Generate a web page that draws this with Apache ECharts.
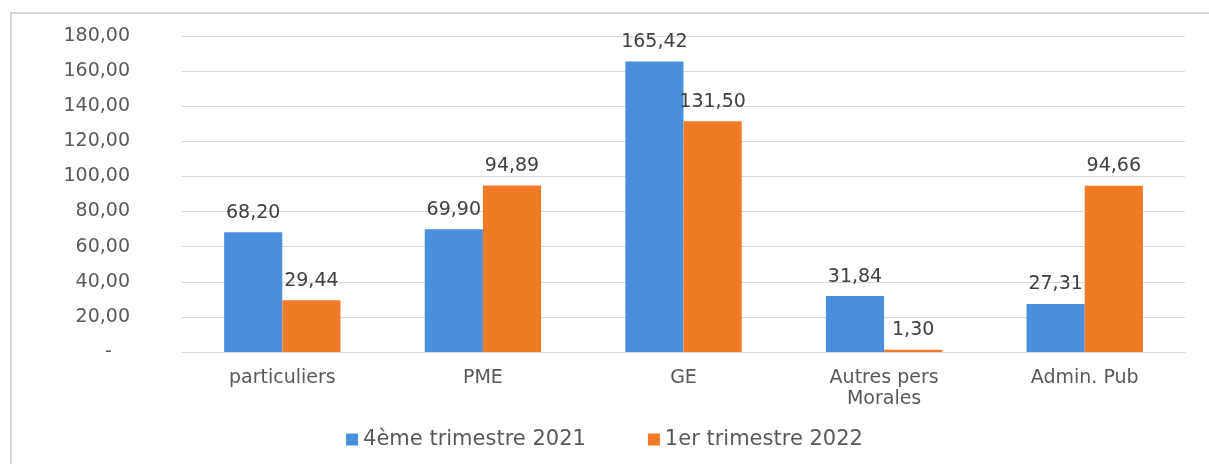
<!DOCTYPE html>
<html>
<head>
<meta charset="utf-8">
<script src="https://cdn.jsdelivr.net/npm/echarts@6/dist/echarts.min.js"></script>
<style>
  html, body { margin: 0; padding: 0; background: #fff; }
  #chart-dom { width: 1209px; height: 464px; }
</style>
</head>
<body>
<div id="chart-dom"></div>
<script>
const categories = ['particuliers', 'PME', 'GE', 'Autres pers\nMorales', 'Admin. Pub']
const seriesNames = ['4ème trimestre 2021', '1er trimestre 2022']
const q4_2021 = [68.20, 69.90, 165.42, 31.84, 27.31]
const q1_2022 = [29.44, 94.89, 131.50, 1.30, 94.66]
const colors = ['#4a8fdc', '#f07a26']

const fontFamily = 'DejaVu Sans'
// french number format, 2 decimals
const fmt = v => v.toFixed(2).replace('.', ',')

const chart = echarts.init(document.getElementById('chart-dom'))

const labelStyle = {
    show: true,
    position: 'top',
    distance: 10,
    fontFamily: fontFamily,
    fontSize: 19,
    color: '#404040',
    formatter: p => fmt(p.value)
}

const option = {
    animation: false,
    backgroundColor: '#fff',
    color: colors,
    // frame: only top and left edges are visible in the source
    graphic: [{
        type: 'polyline',
        shape: { points: [[11, 470], [11, 13], [1209, 13]] },
        style: { fill: 'none', stroke: '#d6d6d6', lineWidth: 2 },
        silent: true
    }],
    grid: { left: 182, right: 24, top: 36, bottom: 112 },
    legend: {
        bottom: 9,
        left: 'center',
        itemWidth: 12,
        itemHeight: 12,
        itemGap: 62,
        icon: 'rect',
        textStyle: { fontFamily: fontFamily, fontSize: 21, color: '#595959' },
        data: seriesNames
    },
    xAxis: {
        type: 'category',
        data: categories,
        axisTick: { show: false },
        axisLine: { lineStyle: { color: '#d9d9d9', width: 1 } },
        axisLabel: {
            margin: 16,
            fontFamily: fontFamily,
            fontSize: 19,
            color: '#595959',
            lineHeight: 21
        }
    },
    yAxis: {
        type: 'value',
        min: 0,
        max: 180,
        interval: 20,
        axisLine: { show: false },
        axisTick: { show: false },
        splitLine: { lineStyle: { color: '#d9d9d9', width: 1 } },
        axisLabel: {
            margin: 52,
            fontFamily: fontFamily,
            fontSize: 19,
            color: '#595959',
            formatter: v => v === 0 ? '-   ' : fmt(v)
        }
    },
    series: [
        {
            name: seriesNames[0],
            type: 'bar',
            data: q4_2021,
            barGap: '0%',
            barCategoryGap: '42%',
            label: labelStyle
        },
        {
            name: seriesNames[1],
            type: 'bar',
            data: q1_2022,
            barGap: '0%',
            barCategoryGap: '42%',
            label: labelStyle
        }
    ]
}

chart.setOption(option)
</script>
</body>
</html>
